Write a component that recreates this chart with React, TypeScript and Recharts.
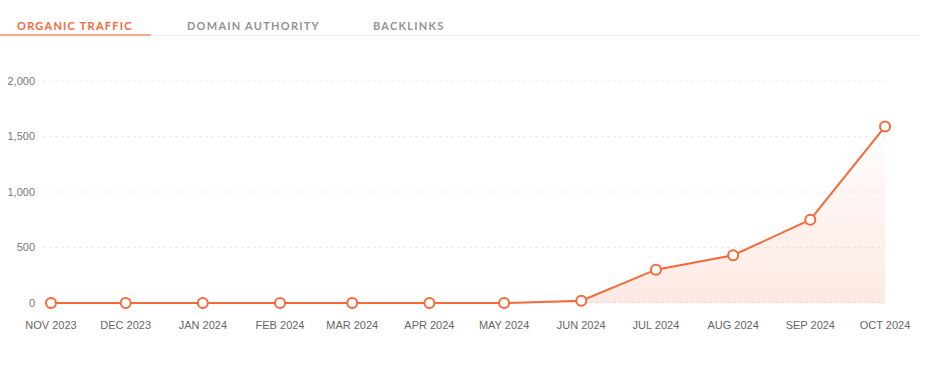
import React from 'react';
import { ComposedChart, Area, Line, XAxis, YAxis, CartesianGrid } from 'recharts';

const ORANGE = '#f4693a';

const months = [
  [2023, 10], [2023, 11], [2024, 0], [2024, 1], [2024, 2], [2024, 3],
  [2024, 4], [2024, 5], [2024, 6], [2024, 7], [2024, 8], [2024, 9],
];
const monthLabels = [
  'NOV 2023', 'DEC 2023', 'JAN 2024', 'FEB 2024', 'MAR 2024', 'APR 2024',
  'MAY 2024', 'JUN 2024', 'JUL 2024', 'AUG 2024', 'SEP 2024', 'OCT 2024',
];
const traffic = [0, 0, 0, 0, 0, 0, 0, 20, 300, 430, 750, 1590];
const yTicks = [0, 500, 1000, 1500, 2000];
const tabs = ['ORGANIC TRAFFIC', 'DOMAIN AUTHORITY', 'BACKLINKS'];

const times = months.map(([y, m]) => Date.UTC(y, m, 1));
const data = times.map((t, i) => ({ t, label: monthLabels[i], value: traffic[i] }));
const labelByTime: Record<number, string> = {};
data.forEach(d => { labelByTime[d.t] = d.label; });

const tabLeft = [17, 187, 373];

export default function App() {
  return (
    <div style={{ position: 'fixed', left: 0, top: 0, width: 934, height: 382, background: '#fff', overflow: 'hidden' }}>
      <div style={{ position: 'absolute', left: 0, top: 35, width: 920, height: 1, background: '#f0f0f0' }} />
      <div style={{ position: 'absolute', left: 0, top: 34, width: 151, height: 2, background: '#f7a98c' }} />
      {tabs.map((t, i) => (
        <div
          key={t}
          style={{
            position: 'absolute', left: tabLeft[i], top: 19, fontFamily: 'Lato, sans-serif', fontWeight: 700,
            fontSize: 11, letterSpacing: 1.25, color: i === 0 ? ORANGE : '#939393', whiteSpace: 'nowrap',
          }}
        >
          {t}
        </div>
      ))}
      <div style={{ position: 'absolute', left: 0, top: 0 }}>
        <ComposedChart width={934} height={382} data={data} margin={{ top: 81, right: 49, bottom: 49, left: 0 }}>
          <defs>
            <linearGradient id="trafficFill" x1="0" y1="0" x2="0" y2="1">
              <stop offset="0%" stopColor={ORANGE} stopOpacity={0.02} />
              <stop offset="100%" stopColor={ORANGE} stopOpacity={0.24} />
            </linearGradient>
          </defs>
          <CartesianGrid vertical={false} stroke="#ebebeb" strokeDasharray="3 3" />
          <XAxis
            dataKey="t" type="number" scale="time" domain={[times[0], times[times.length - 1]]}
            ticks={times} tickFormatter={(v: number) => labelByTime[v]} interval={0}
            padding={{ left: 8, right: 0 }} axisLine={false} tickLine={false} tickMargin={12}
            tick={{ fill: '#666', fontSize: 11, fontFamily: '"Liberation Sans", Arial, sans-serif' }}
          />
          <YAxis
            width={43} domain={[0, 2000]} ticks={yTicks} axisLine={false} tickLine={false}
            tickFormatter={(v: number) => v.toLocaleString('en-US')}
            tick={{ fill: '#777', fontSize: 11, fontFamily: '"Liberation Sans", Arial, sans-serif' }}
          />
          <Area type="linear" dataKey="value" stroke="none" fill="url(#trafficFill)" isAnimationActive={false} />
          <Line
            type="linear" dataKey="value" stroke={ORANGE} strokeWidth={2} isAnimationActive={false}
            dot={{ r: 5, fill: '#fff', stroke: ORANGE, strokeWidth: 2 }} activeDot={false}
          />
        </ComposedChart>
      </div>
    </div>
  );
}
